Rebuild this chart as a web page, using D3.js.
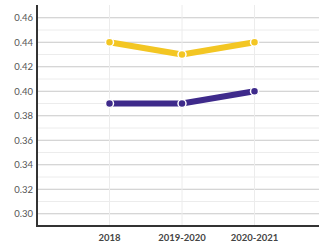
<!DOCTYPE html>
<html>
<head>
<meta charset="utf-8">
<script src="https://cdn.jsdelivr.net/npm/d3@7"></script>
<style>
  body { margin: 0; background: #fff; }
  svg { display: block; font-family: Lato, "Open Sans", sans-serif; }
</style>
</head>
<body>
<svg></svg>
<script>
// Data.
var categories = ["2018", "2019-2020", "2020-2021"];
var goldValues = [0.44, 0.43, 0.44];
var purpleValues = [0.39, 0.39, 0.40];
var yTicks = [0.30, 0.32, 0.34, 0.36, 0.38, 0.40, 0.42, 0.44, 0.46];

var series = [
    { name: "gold", color: "#f3c623", values: goldValues },
    { name: "purple", color: "#3e2a8b", values: purpleValues }
];

//==========================================================================
// Layout and scales.
var width = 319, height = 246;
var axisLeft = 37, axisBottom = 226, axisTop = 5;

var svg = d3.select("svg")
    .attr("width", width)
    .attr("height", height)
;

var x = d3.scalePoint()
    .domain(categories)
    .range([axisLeft, axisLeft + 290])
    .padding(1)
;

var y = d3.scaleLinear()
    .domain([0.29, 0.47])
    .range([axisBottom, axisTop + 0.5])
;

// Minor gridlines every 0.01.
var minor = d3.range(0.30, 0.47, 0.01).map(function(v) { return +v.toFixed(2); });
svg.append("g")
    .selectAll("line")
    .data(minor)
    .enter()
    .append("line")
    .attr("x1", axisLeft)
    .attr("x2", width)
    .attr("y1", function(d) { return y(d); })
    .attr("y2", function(d) { return y(d); })
    .attr("stroke", function(d) {
        return yTicks.some(function(t) { return Math.abs(t - d) < 1e-6; }) ? "#c8c8c8" : "#ececec";
    })
    .attr("stroke-width", 1)
;

// Vertical gridlines at categories.
svg.append("g")
    .selectAll("line")
    .data(categories)
    .enter()
    .append("line")
    .attr("x1", function(d) { return x(d); })
    .attr("x2", function(d) { return x(d); })
    .attr("y1", axisTop)
    .attr("y2", axisBottom)
    .attr("stroke", "#ececec")
;

// Y tick labels.
svg.append("g")
    .selectAll("text")
    .data(yTicks)
    .enter()
    .append("text")
    .attr("x", axisLeft - 4)
    .attr("y", function(d) { return y(d); })
    .attr("dy", "0.35em")
    .attr("text-anchor", "end")
    .attr("font-size", 9.5)
    .attr("fill", "#555")
    .text(function(d) { return d.toFixed(2); })
;

// X tick labels.
svg.append("g")
    .selectAll("text")
    .data(categories)
    .enter()
    .append("text")
    .attr("x", function(d) { return x(d); })
    .attr("y", 241)
    .attr("text-anchor", "middle")
    .attr("font-size", 9.5)
    .attr("font-weight", "bold")
    .attr("fill", "#444")
    .text(function(d) { return d; })
;

// Axis lines.
svg.append("line")
    .attr("x1", axisLeft).attr("x2", axisLeft)
    .attr("y1", axisTop).attr("y2", axisBottom + 1)
    .attr("stroke", "#333").attr("stroke-width", 2);
svg.append("line")
    .attr("x1", axisLeft - 1).attr("x2", width)
    .attr("y1", axisBottom).attr("y2", axisBottom)
    .attr("stroke", "#333").attr("stroke-width", 2);

//==========================================================================
// Series lines and markers.
var line = d3.line()
    .x(function(d, i) { return x(categories[i]); })
    .y(function(d) { return y(d); })
;

var groups = svg.selectAll(".series")
    .data(series)
    .enter()
    .append("g")
    .classed("series", true)
;

groups.append("path")
    .attr("d", function(d) { return line(d.values); })
    .attr("fill", "none")
    .attr("stroke", function(d) { return d.color; })
    .attr("stroke-width", 6)
    .attr("stroke-linejoin", "round")
;

groups.selectAll("circle")
    .data(function(d) {
        return d.values.map(function(v, i) { return { v: v, i: i, color: d.color }; });
    })
    .enter()
    .append("circle")
    .attr("cx", function(d) { return x(categories[d.i]); })
    .attr("cy", function(d) { return y(d.v); })
    .attr("r", 4)
    .attr("fill", function(d) { return d.color; })
    .attr("stroke", "#fff")
    .attr("stroke-width", 1.5)
;
</script>
</body>
</html>
